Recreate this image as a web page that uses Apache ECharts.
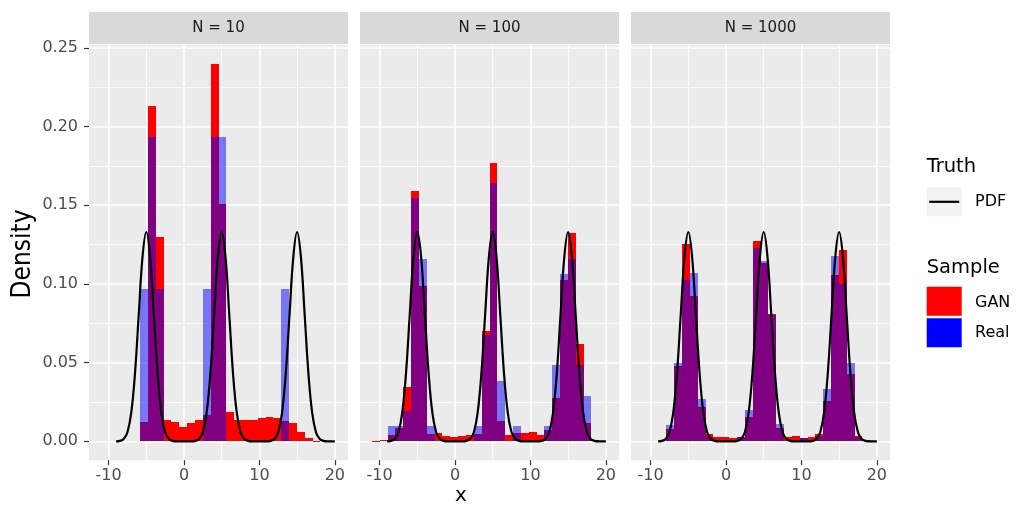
<!DOCTYPE html>
<html>
<head>
<meta charset="utf-8">
<script src="https://cdn.jsdelivr.net/npm/echarts@6/dist/echarts.min.js"></script>
<style>
html, body { margin: 0; padding: 0; background: #fff; }
#main { width: 1016px; height: 506px; }
</style>
</head>
<body>
<div id="main"></div>
<script>
// facets
const panels = ['N = 10', 'N = 100', 'N = 1000']

// histogram bins (shared by all facets)
const binStart = -11.02
const binWidth = 1.04

// densities per bin
const gan10 = [0, 0, 0, 0, 0, 0.012, 0.213, 0.1296, 0.0138, 0.0123,
    0.0094, 0.0117, 0.0136, 0.0166, 0.240, 0.151, 0.0187, 0.0138, 0.0134, 0.0138,
    0.0145, 0.0153, 0.0147, 0.0126, 0.0117, 0.006, 0.0023, 0.0004, 0, 0]
const real10 = [0, 0, 0, 0, 0, 0.0966, 0.1932, 0.0966, 0, 0,
    0, 0, 0, 0.0966, 0.1932, 0.1932, 0, 0, 0, 0,
    0, 0, 0, 0.0966, 0, 0, 0, 0, 0, 0]
const gan100 = [0.0004, 0.0008, 0.0038, 0.0085, 0.0343, 0.159, 0.0985, 0.0047, 0.0053, 0.0032,
    0.0028, 0.0032, 0.0038, 0.0047, 0.0699, 0.177, 0.0127, 0.0042, 0.0053, 0.0053,
    0.0057, 0.0038, 0.0074, 0.0275, 0.1028, 0.1324, 0.062, 0.0117, 0.0006, 0]
const real100 = [0, 0, 0.0097, 0.0097, 0.0193, 0.1546, 0.1159, 0.0097, 0, 0,
    0, 0, 0, 0.0097, 0.0676, 0.1643, 0.0386, 0, 0.0097, 0,
    0, 0, 0.0097, 0.0483, 0.1063, 0.1159, 0.0483, 0.029, 0, 0]
const gan1000 = [0, 0, 0, 0.0077, 0.0477, 0.1253, 0.0923, 0.0221, 0.0045, 0.003,
    0.003, 0.0019, 0.0026, 0.0157, 0.127, 0.113, 0.0806, 0.0083, 0.0026, 0.0034,
    0.0023, 0.003, 0.0047, 0.0253, 0.1055, 0.1217, 0.043, 0.0036, 0.0008, 0]
const real1000 = [0, 0, 0, 0.0104, 0.0498, 0.1023, 0.107, 0.0268, 0.003, 0,
    0, 0, 0.0026, 0.02, 0.1228, 0.1143, 0.08, 0.011, 0, 0,
    0.002, 0, 0.0036, 0.0334, 0.1179, 0.1002, 0.0498, 0.003, 0.0008, 0]

// true pdf, same in every facet
const pdfX = [-9, -8.5, -8, -7.5, -7, -6.5, -6, -5.5, -5, -4.5, -4, -3.5, -3, -2.5, -2, -1.5, -1, -0.5,
    0, 0.5, 1, 1.5, 2, 2.5, 3, 3.5, 4, 4.5, 5, 5.5, 6, 6.5, 7, 7.5, 8, 8.5, 9, 9.5,
    10, 10.5, 11, 11.5, 12, 12.5, 13, 13.5, 14, 14.5, 15, 15.5, 16, 16.5, 17, 17.5, 18, 18.5, 19, 19.5, 20]
const pdfY = [0, 0.0003, 0.0015, 0.0058, 0.018, 0.0432, 0.0807, 0.1174, 0.133, 0.1174, 0.0807, 0.0432, 0.018, 0.0058, 0.0015, 0.0003, 0, 0,
    0, 0, 0, 0.0003, 0.0015, 0.0058, 0.018, 0.0432, 0.0807, 0.1174, 0.133, 0.1174, 0.0807, 0.0432, 0.018, 0.0058, 0.0015, 0.0003, 0, 0,
    0, 0, 0, 0.0003, 0.0015, 0.0058, 0.018, 0.0432, 0.0807, 0.1174, 0.133, 0.1174, 0.0807, 0.0432, 0.018, 0.0058, 0.0015, 0.0003, 0, 0, 0]

const xTicks = [-10, 0, 10, 20]
const xMinor = [-5, 5, 15]
const yTicks = [0, 0.05, 0.1, 0.15, 0.2, 0.25]
const yMinor = [0.025, 0.075, 0.125, 0.175, 0.225]

const ganData = [gan10, gan100, gan1000]
const realData = [real10, real100, real1000]

const FONT = 'DejaVu Sans'
const panelLeft = [89, 360, 631]
const panelW = 259
const panelTop = 44.7
const panelH = 415.5

function bins(values) {
    let out = []
    values.forEach((v, k) => {
        if (v > 0) out.push([binStart + k * binWidth, binStart + (k + 1) * binWidth, v])
    })
    return out
}

// snap edges to whole pixels so neighbouring bars don't leave seams
function barRenderer(fill) {
    return (params, api) => {
        const a = api.coord([api.value(0), api.value(2)])
        const b = api.coord([api.value(1), 0])
        const x0 = Math.round(a[0]), x1 = Math.round(b[0])
        const y0 = Math.round(a[1]), y1 = Math.round(b[1])
        return {
            type: 'rect',
            shape: { x: x0, y: y0, width: x1 - x0, height: Math.max(y1 - y0, 1) },
            style: { fill: fill },
        }
    }
}

let grids = [], xAxes = [], yAxes = [], series = [], graphics = []
panels.forEach((name, i) => {
    grids.push({
        left: panelLeft[i], top: panelTop, width: panelW, height: panelH,
        show: true, backgroundColor: '#EBEBEB', borderWidth: 0,
    })
    // major x
    xAxes.push({
        type: 'value', gridIndex: i, min: -12.6, max: 21.75, position: 'bottom',
        axisLine: { show: false, onZero: false },
        axisTick: { customValues: xTicks, length: 5, lineStyle: { color: '#333333', width: 1.2 } },
        axisLabel: { customValues: xTicks, color: '#4D4D4D', fontSize: 16, fontFamily: FONT, margin: 8 },
        splitLine: { show: true, lineStyle: { color: '#FFFFFF', width: 1.6 } },
    })
    // minor x grid lines
    xAxes.push({
        type: 'value', gridIndex: i, min: -12.6, max: 21.75, position: 'top',
        axisLine: { show: false, onZero: false },
        axisTick: { show: false, customValues: xMinor },
        axisLabel: { show: false, customValues: xMinor },
        splitLine: { show: true, lineStyle: { color: '#FFFFFF', width: 0.8 } },
    })
    yAxes.push({
        type: 'value', gridIndex: i, min: -0.012, max: 0.252, position: 'left',
        axisLine: { show: false, onZero: false },
        axisTick: { show: i === 0, customValues: yTicks, length: 5, lineStyle: { color: '#333333', width: 1.2 } },
        axisLabel: {
            show: i === 0, customValues: yTicks, color: '#4D4D4D', fontSize: 16, fontFamily: FONT, margin: 11,
            formatter: v => v.toFixed(2),
        },
        splitLine: { show: true, lineStyle: { color: '#FFFFFF', width: 1.6 } },
    })
    yAxes.push({
        type: 'value', gridIndex: i, min: -0.012, max: 0.252, position: 'right',
        axisLine: { show: false, onZero: false },
        axisTick: { show: false, customValues: yMinor },
        axisLabel: { show: false, customValues: yMinor },
        splitLine: { show: true, lineStyle: { color: '#FFFFFF', width: 0.8 } },
    })
    series.push({
        type: 'custom', xAxisIndex: 2 * i, yAxisIndex: 2 * i, z: 2,
        renderItem: barRenderer('#FF0000'),
        encode: { x: [0, 1], y: 2 },
        data: bins(ganData[i]),
    })
    series.push({
        type: 'custom', xAxisIndex: 2 * i, yAxisIndex: 2 * i, z: 3,
        renderItem: barRenderer('rgba(0,0,255,0.5)'),
        encode: { x: [0, 1], y: 2 },
        data: bins(realData[i]),
    })
    series.push({
        type: 'line', xAxisIndex: 2 * i, yAxisIndex: 2 * i, z: 4,
        data: pdfX.map((x, j) => [x, pdfY[j]]),
        smooth: 0.4, showSymbol: false, silent: true,
        lineStyle: { color: '#000000', width: 2.2 },
    })
    // facet strip
    graphics.push({
        type: 'rect', shape: { x: panelLeft[i], y: 12, width: panelW, height: 32 },
        style: { fill: '#D9D9D9' },
    })
    graphics.push({
        type: 'text', x: panelLeft[i] + panelW / 2, y: 28,
        style: { text: name, fill: '#1A1A1A', font: `15px "${FONT}"`, align: 'center', verticalAlign: 'middle' },
    })
})

// axis titles
graphics.push({
    type: 'text', x: 23, y: 254, rotation: Math.PI / 2,
    style: { text: 'Density', fill: '#000000', font: '26px "Liberation Sans Narrow", "DejaVu Sans Condensed", sans-serif', align: 'center', verticalAlign: 'middle' },
})
graphics.push({
    type: 'text', x: 461, y: 496,
    style: { text: 'x', fill: '#000000', font: `20px "${FONT}"`, align: 'center', verticalAlign: 'middle' },
})

// legend
const legendX = 926.7
graphics.push(
    { type: 'text', x: legendX, y: 167, style: { text: 'Truth', fill: '#000', font: `19.5px "${FONT}"`, verticalAlign: 'middle' } },
    { type: 'rect', shape: { x: legendX, y: 187.3, width: 35, height: 29 }, style: { fill: '#F2F2F2' } },
    { type: 'line', shape: { x1: legendX + 2.5, y1: 201.8, x2: legendX + 32.5, y2: 201.8 }, style: { stroke: '#000', lineWidth: 2.2 } },
    { type: 'text', x: 975, y: 202, style: { text: 'PDF', fill: '#000', font: `16px "${FONT}"`, verticalAlign: 'middle' } },
    { type: 'text', x: legendX, y: 267.5, style: { text: 'Sample', fill: '#000', font: `19.5px "${FONT}"`, verticalAlign: 'middle' } },
    { type: 'rect', shape: { x: legendX, y: 286.7, width: 35, height: 29 }, style: { fill: '#FF0000' } },
    { type: 'rect', shape: { x: legendX, y: 318.3, width: 35, height: 29 }, style: { fill: '#0000FF' } },
    { type: 'text', x: 975, y: 302.5, style: { text: 'GAN', fill: '#000', font: `16px "${FONT}"`, verticalAlign: 'middle' } },
    { type: 'text', x: 975, y: 332.5, style: { text: 'Real', fill: '#000', font: `16px "${FONT}"`, verticalAlign: 'middle' } },
)

const chart = echarts.init(document.getElementById('main'))
chart.setOption({
    animation: false,
    backgroundColor: '#FFFFFF',
    grid: grids,
    xAxis: xAxes,
    yAxis: yAxes,
    series: series,
    graphic: graphics,
})
</script>
</body>
</html>
